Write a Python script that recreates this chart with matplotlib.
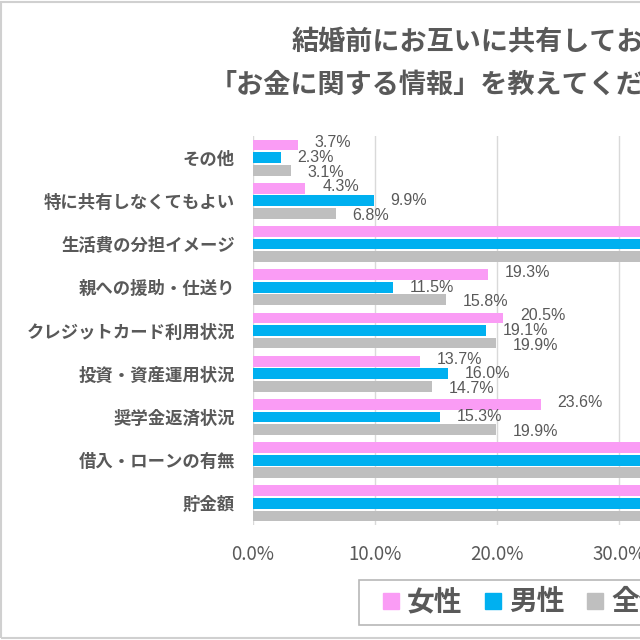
import matplotlib
matplotlib.use("Agg")
import matplotlib.pyplot as plt
import numpy as np
from matplotlib.patches import Rectangle
from matplotlib.lines import Line2D

plt.rcParams['font.family'] = ['Noto Sans CJK JP', 'DejaVu Sans']

categories = ['その他', '特に共有しなくてもよい', '生活費の分担イメージ', '親への援助・仕送り',
              'クレジットカード利用状況', '投資・資産運用状況', '奨学金返済状況',
              '借入・ローンの有無', '貯金額']
# values in percent (rows above 32% are cut off in the reference, estimated)
female = [3.7, 4.3, 38.9, 19.3, 20.5, 13.7, 23.6, 55.6, 62.4]
male = [2.3, 9.9, 35.1, 11.5, 19.1, 16.0, 15.3, 49.6, 58.0]
total = [3.1, 6.8, 37.0, 15.8, 19.9, 14.7, 19.9, 52.6, 60.2]
series_names = ['女性', '男性', '全体']
colors = ['#FA9CF5', '#00B0F0', '#BFBFBF']
xticks = [0, 10, 20, 30, 40, 50, 60, 70]

text_col = '#595959'

fig = plt.figure(figsize=(6.4, 6.4), dpi=100)
ax = fig.add_axes([253 / 640, 1 - 525 / 640, 854 / 640, 389 / 640])

y = np.arange(len(categories))
step = 0.29
h = 0.25
label_dy = [1.5, 0, -1.5]  # spread labels a little like the original
for i, (vals, name, c) in enumerate(zip([female, male, total], series_names, colors)):
    pos = y + (i - 1) * step
    ax.barh(pos, vals, height=h, color=c, zorder=3)
    for p, v in zip(pos, vals):
        ax.annotate(f'{v:.1f}%', (v, p), xytext=(12, label_dy[i]), textcoords='offset points',
                    va='center', ha='left', fontsize=11.5, color=text_col,
                    family=['Liberation Sans', 'DejaVu Sans'])

ax.set_ylim(len(categories) - 0.5, -0.5)
ax.set_xlim(0, 70)
ax.set_yticks(y)
ax.set_yticklabels(categories, fontsize=12.5, fontweight='bold', color=text_col)
ax.set_xticks(xticks)
ax.set_xticklabels([f'{t:.1f}%' for t in xticks], fontsize=13.5, color=text_col)
ax.tick_params(axis='y', length=0, pad=13)
ax.tick_params(axis='x', length=0, pad=14)
ax.grid(axis='x', color='#D9D9D9', linewidth=1, zorder=0)
for s in ax.spines.values():
    s.set_visible(False)

fig.text(292 / 640, 1 - 42 / 640, '結婚前にお互いに共有しておきたい', ha='left', va='center',
         fontsize=19.5, fontweight='bold', color=text_col)
fig.text(210 / 640, 1 - 85 / 640, '「お金に関する情報」を教えてください', ha='left', va='center',
         fontsize=19.5, fontweight='bold', color=text_col)

handles = [Line2D([], [], marker='s', linestyle='none', markersize=11,
                  markerfacecolor=c, markeredgecolor=c) for c in colors]
leg = fig.legend(handles, series_names, loc='upper left',
                 bbox_to_anchor=(359 / 640, 1 - 580 / 640), ncol=3,
                 prop={'size': 20, 'weight': 'bold'}, frameon=True, fancybox=False,
                 handlelength=1.67, handletextpad=-0.24,
                 columnspacing=0.25, borderpad=0.3, borderaxespad=0)
leg.get_frame().set_edgecolor('#A6A6A6')
leg.get_frame().set_linewidth(1.2)
for t in leg.get_texts():
    t.set_color(text_col)

fig.patches.append(Rectangle((0.002, 0.003), 1.5, 0.994, transform=fig.transFigure,
                             fill=False, edgecolor='#D0D0D0', linewidth=1.5))

fig.savefig('out.png', dpi=100)
